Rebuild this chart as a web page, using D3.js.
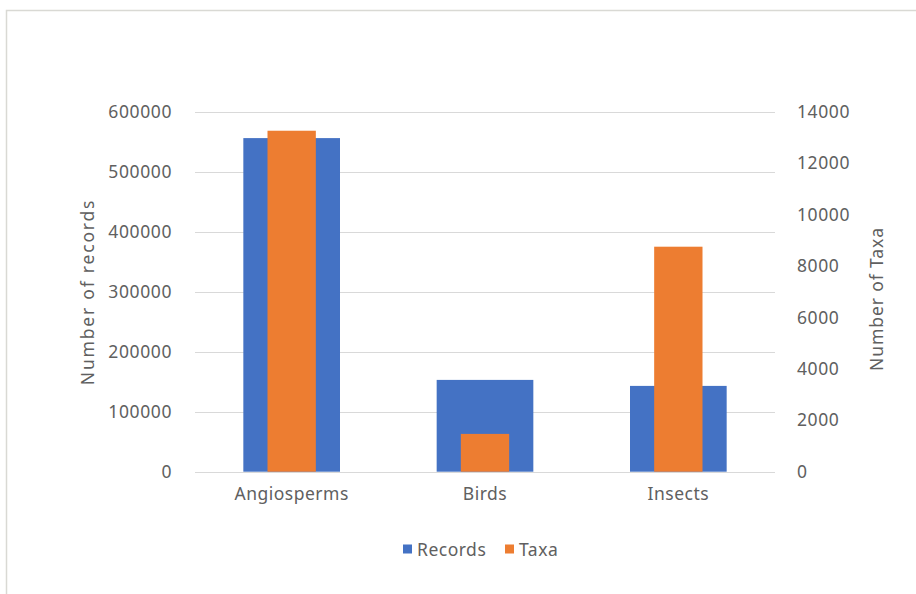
<!DOCTYPE html>
<meta charset="utf-8">
<title>Records and Taxa</title>
<style>
  body { margin: 0; background: #fff; }
  text { font-family: "Noto Sans", "Open Sans", sans-serif; fill: #606060; }
</style>
<body>
<script src="https://cdn.jsdelivr.net/npm/d3@7"></script>
<script>

var categories = ['Angiosperms', 'Birds', 'Insects'];
var records = [556000, 153000, 143000];
var taxa = [13260, 1470, 8750];
var recordTicks = [0, 100000, 200000, 300000, 400000, 500000, 600000];
var taxaTicks = [0, 2000, 4000, 6000, 8000, 10000, 12000, 14000];
var seriesNames = ['Records', 'Taxa'];
var colors = ['#4472c4', '#ed7d31'];

var W = 916, H = 594;
var pLeft = 195, pRight = 775, pTop = 111.7, pBottom = 471.7;

var svg = d3.select('body').append('svg')
  .attr('width', W).attr('height', H)

// thin frame (only top and left edges show in the reference)
svg.append('path')
  .attr('d', 'M6.5,' + H + 'V10.5H' + W)
  .attr('fill', 'none').attr('stroke', '#d9d9d4').attr('stroke-width', 1.5)

var x = d3.scaleBand().domain(categories).range([pLeft, pRight])
var yL = d3.scaleLinear().domain([0, 600000]).range([pBottom, pTop])
var yR = d3.scaleLinear().domain([0, 14000]).range([pBottom, pTop])

// gridlines
svg.append('g').selectAll('line').data(recordTicks)
  .enter().append('line')
  .attr('x1', pLeft).attr('x2', pRight)
  .attr('y1', function(d) { return Math.round(yL(d)) + 0.5; })
  .attr('y2', function(d) { return Math.round(yL(d)) + 0.5; })
  .attr('stroke', '#d9d9d9').attr('stroke-width', 1)

// records bars (primary axis, wide)
svg.append('g').selectAll('rect').data(records)
  .enter().append('rect')
  .attr('x', function(d, i) { return x(categories[i]) + x.bandwidth() * 0.25; })
  .attr('width', x.bandwidth() * 0.5)
  .attr('y', function(d) { return yL(d); })
  .attr('height', function(d) { return pBottom - yL(d); })
  .attr('fill', colors[0])

// taxa bars (secondary axis, narrow)
svg.append('g').selectAll('rect').data(taxa)
  .enter().append('rect')
  .attr('x', function(d, i) { return x(categories[i]) + x.bandwidth() * 0.375; })
  .attr('width', x.bandwidth() * 0.25)
  .attr('y', function(d) { return yR(d); })
  .attr('height', function(d) { return pBottom - yR(d); })
  .attr('fill', colors[1])

var fs = '17.5px';

// left axis
var axL = svg.append('g').attr('transform', 'translate(172,0)')
  .call(d3.axisLeft(yL).tickValues(recordTicks).tickSize(0).tickPadding(0).tickFormat(d3.format('d')))
axL.select('.domain').remove()
axL.selectAll('text').attr('font-size', fs).attr('font-family', null).attr('fill', null)
  .style('letter-spacing', '0.6px')

// right axis
var axR = svg.append('g').attr('transform', 'translate(797,0)')
  .call(d3.axisRight(yR).tickValues(taxaTicks).tickSize(0).tickPadding(0).tickFormat(d3.format('d')))
axR.select('.domain').remove()
axR.selectAll('text').attr('font-size', fs).attr('font-family', null).attr('fill', null)
  .style('letter-spacing', '0.6px')

// category axis
var axB = svg.append('g').attr('transform', 'translate(0,' + pBottom + ')')
  .call(d3.axisBottom(x).tickSize(0).tickPadding(16))
axB.select('.domain').remove()
axB.selectAll('text').attr('font-size', fs).attr('font-family', null).attr('fill', null)
  .style('letter-spacing', '0.5px')

// axis titles
svg.append('text')
  .attr('transform', 'translate(94,292) rotate(-90)')
  .attr('text-anchor', 'middle').attr('font-size', fs).style('letter-spacing', '1.8px')
  .text('Number of records')
svg.append('text')
  .attr('transform', 'translate(883,299) rotate(-90)')
  .attr('text-anchor', 'middle').attr('font-size', fs).style('letter-spacing', '0.9px')
  .text('Number of Taxa')

// legend
var lg = svg.append('g').attr('transform', 'translate(403,549)')
var lx = [0, 102]
seriesNames.forEach(function(n, i) {
  lg.append('rect').attr('x', lx[i]).attr('y', -4.5).attr('width', 9).attr('height', 9).attr('fill', colors[i])
  lg.append('text').attr('x', lx[i] + 14).attr('y', 6.5).attr('font-size', fs)
    .style('letter-spacing', '0.5px').text(n)
})

</script>
</body>
